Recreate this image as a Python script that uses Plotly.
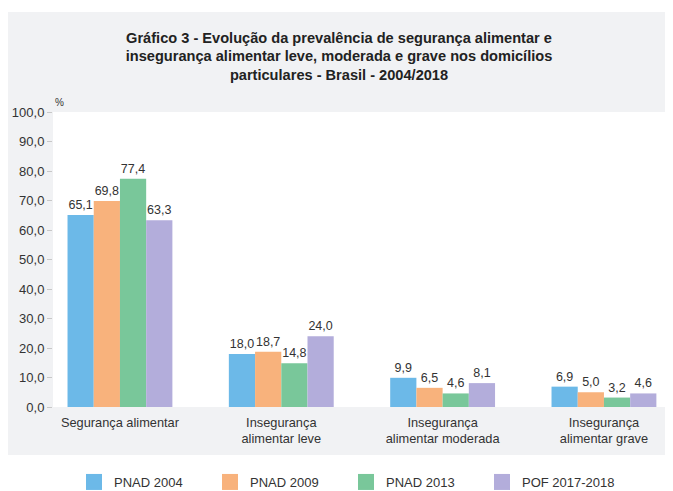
import plotly.graph_objects as go

categories = ["Segurança alimentar", "Insegurança<br>alimentar leve",
              "Insegurança<br>alimentar moderada", "Insegurança<br>alimentar grave"]
series_names = ["PNAD 2004", "PNAD 2009", "PNAD 2013", "POF 2017-2018"]
pnad_2004 = [65.1, 18.0, 9.9, 6.9]
pnad_2009 = [69.8, 18.7, 6.5, 5.0]
pnad_2013 = [77.4, 14.8, 4.6, 3.2]
pof_2017_2018 = [63.3, 24.0, 8.1, 4.6]
y_ticks = [0, 10, 20, 30, 40, 50, 60, 70, 80, 90, 100]

colors = ["#6cb9e8", "#f8b27c", "#79c79a", "#b3addb"]
series = [pnad_2004, pnad_2009, pnad_2013, pof_2017_2018]
x_pos = list(range(len(categories)))

FONT = "Liberation Sans, Arial"

fig = go.Figure()
for name, vals, col in zip(series_names, series, colors):
    fig.add_trace(go.Bar(
        x=x_pos, y=vals, name=name, showlegend=False,
        marker=dict(color=col, line=dict(width=0)),
        texttemplate="%{y:.1f}", textposition="outside", cliponaxis=False,
        constraintext="none",
        textfont=dict(family=FONT, size=12.5, color="#333333"),
    ))
# legend entries (square swatches)
for name, col in zip(series_names, colors):
    fig.add_trace(go.Scatter(
        x=[None], y=[None], name=name, mode="markers",
        marker=dict(symbol="square", size=16, color=col),
    ))

# page body has an 8px margin: figure coords = screen coords - 8
W, H = 665, 483
L, R, T, B = 45, 5, 104, 84
pw, ph = W - L - R, H - T - B
bottom = H - B

fig.update_layout(
    width=W, height=H,
    margin=dict(l=L, r=R, t=T, b=B, autoexpand=False),
    paper_bgcolor="white", plot_bgcolor="white",
    separators=", ",
    barmode="group", bargap=0.35, bargroupgap=0,
    font=dict(family=FONT, color="#333333"),
    title=dict(
        text="Gráfico 3 - Evolução da prevalência de segurança alimentar e<br>"
             "insegurança alimentar leve, moderada e grave nos domicílios<br>"
             "particulares - Brasil - 2004/2018",
        x=331 / W, xref="container", xanchor="center",
        y=1 - 34.5 / H, yref="container", yanchor="middle",
        font=dict(family=FONT, size=14.6, color="#222222", weight="bold"),
    ),
    xaxis=dict(
        range=[-0.415, 3.397], tickmode="array", tickvals=x_pos, ticktext=categories,
        showgrid=False, zeroline=False, showline=False, ticks="",
        ticklabelstandoff=6,
        tickfont=dict(size=12.8, color="#333333"),
    ),
    yaxis=dict(
        range=[0, 100], tickmode="array", tickvals=y_ticks, tickformat=".1f",
        showgrid=False, zeroline=False, showline=False,
        ticks="outside", ticklen=5, tickcolor="#c8c8c8",
        tickfont=dict(size=13, color="#333333"),
    ),
    legend=dict(
        orientation="h", x=(66 - L) / pw, xanchor="left",
        y=(bottom - 474) / ph, yanchor="middle",
        entrywidth=91, entrywidthmode="pixels",
        font=dict(size=13, color="#333333"),
        bgcolor="rgba(0,0,0,0)",
    ),
    shapes=[
        dict(type="rect", xref="paper", yref="paper", layer="below",
             x0=(0 - L) / pw, x1=(662 - L) / pw,
             y0=(bottom - 447) / ph, y1=(bottom - 4) / ph,
             fillcolor="#f1f2f4", line=dict(width=0)),
        dict(type="rect", xref="paper", yref="paper", layer="below",
             x0=0, x1=1, y0=0, y1=1,
             fillcolor="white", line=dict(width=0)),
    ],
    annotations=[
        dict(text="%", xref="paper", yref="paper", x=(45 - L) / pw, y=(bottom - 94) / ph,
             xanchor="left", yanchor="middle", showarrow=False,
             font=dict(size=10, color="#333333")),
    ],
)

fig.write_html("out.html")
